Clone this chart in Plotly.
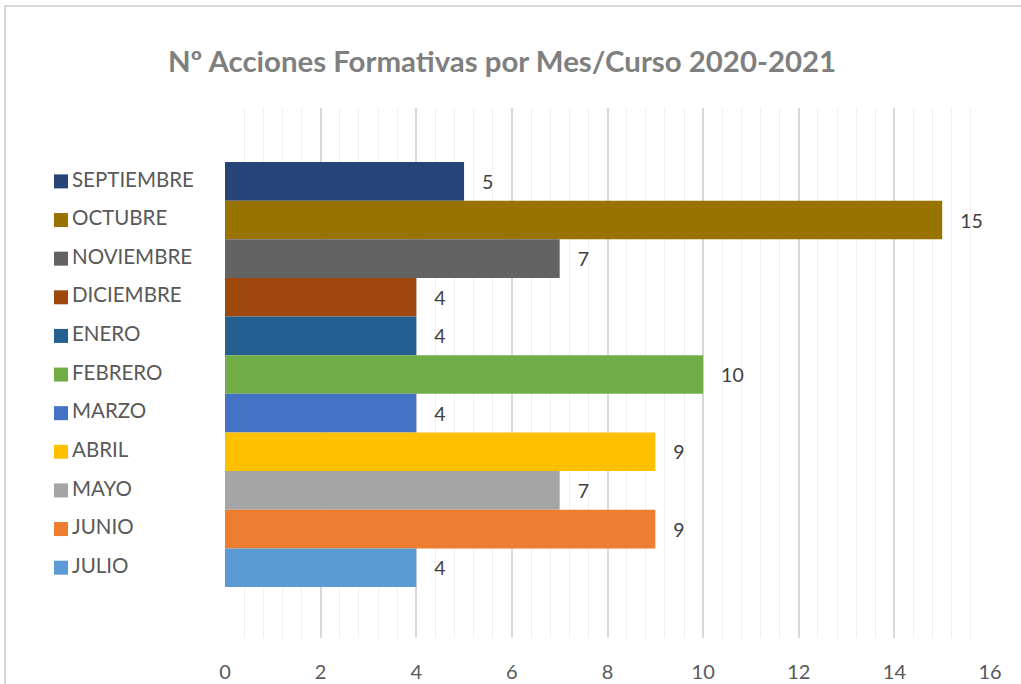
import plotly.graph_objects as go

# data
meses = ["SEPTIEMBRE", "OCTUBRE", "NOVIEMBRE", "DICIEMBRE", "ENERO", "FEBRERO",
         "MARZO", "ABRIL", "MAYO", "JUNIO", "JULIO"]
acciones = [5, 15, 7, 4, 4, 10, 4, 9, 7, 9, 4]
colores = ["#264478", "#997300", "#636363", "#9E480E", "#255E91", "#70AD47",
           "#4472C4", "#FFC000", "#A5A5A5", "#ED7D31", "#5B9BD5"]

W, H = 1021, 684
FONT = "Lato"
TOP, BOTTOM = 108, 638  # plot area in pixels

fig = go.Figure()

fig.add_trace(go.Bar(
    x=acciones,
    y=meses,
    orientation="h",
    width=1,
    marker=dict(color=colores, line=dict(width=0)),
    texttemplate="   %{x}",
    textposition="outside",
    cliponaxis=False,
    textfont=dict(family=FONT, size=19.5, color="#404040"),
    showlegend=False,
    hoverinfo="skip",
))

# legend-like labels on the left, on a helper axis measured in pixels
fig.add_trace(go.Scatter(
    x=[61] * len(meses),
    y=meses,
    xaxis="x2",
    mode="markers",
    marker=dict(symbol="square", size=14, color=colores),
    showlegend=False,
    hoverinfo="skip",
))
fig.add_trace(go.Scatter(
    x=[72] * len(meses),
    y=meses,
    xaxis="x2",
    mode="text",
    text=meses,
    textposition="middle right",
    textfont=dict(family=FONT, size=20.5, color="#595959"),
    showlegend=False,
    hoverinfo="skip",
))

x0, x1 = 225 / W, 990 / W
plot_h = BOTTOM - TOP
fig.update_layout(
    width=W,
    height=H,
    autosize=False,
    margin=dict(l=0, r=0, t=TOP, b=H - BOTTOM, autoexpand=False),
    paper_bgcolor="white",
    plot_bgcolor="white",
    title=dict(
        text="<b>Nº Acciones Formativas por Mes/Curso 2020-2021</b>",
        x=502 / W,
        xanchor="center",
        y=1 - 62 / H,
        yanchor="middle",
        font=dict(family=FONT, size=29.4, color="#7F7F7F"),
    ),
    xaxis=dict(
        domain=[x0, x1],
        range=[0, 16],
        dtick=2,
        tick0=0,
        showgrid=True,
        gridcolor="#D9D9D9",
        gridwidth=1.5,
        zeroline=False,
        showline=False,
        ticks="",
        ticklabelstandoff=20,
        tickfont=dict(family=FONT, size=20, color="#595959"),
        minor=dict(dtick=0.4, tick0=0, showgrid=True, gridcolor="#F0F0F0", gridwidth=1),
    ),
    xaxis2=dict(
        domain=[0, x0],
        range=[0, 225],
        anchor="y",
        visible=False,
    ),
    yaxis=dict(
        type="category",
        categoryorder="array",
        categoryarray=meses,
        range=[11.82, -1.9],
        showticklabels=False,
        showgrid=False,
        zeroline=False,
        showline=False,
        ticks="",
    ),
    shapes=[dict(
        type="rect", xref="paper", yref="paper",
        x0=5 / W, x1=1.02,
        y0=-0.2, y1=(BOTTOM - 6) / plot_h,
        line=dict(color="#D9D9D9", width=2),
        fillcolor="rgba(0,0,0,0)",
        layer="below",
    )],
)

fig.write_html(
    "out.html",
    config={"displayModeBar": False, "responsive": False},
    post_script="document.body.style.margin='0px';"
                "document.body.style.overflow='hidden';"
                "document.documentElement.style.overflow='hidden';",
)
